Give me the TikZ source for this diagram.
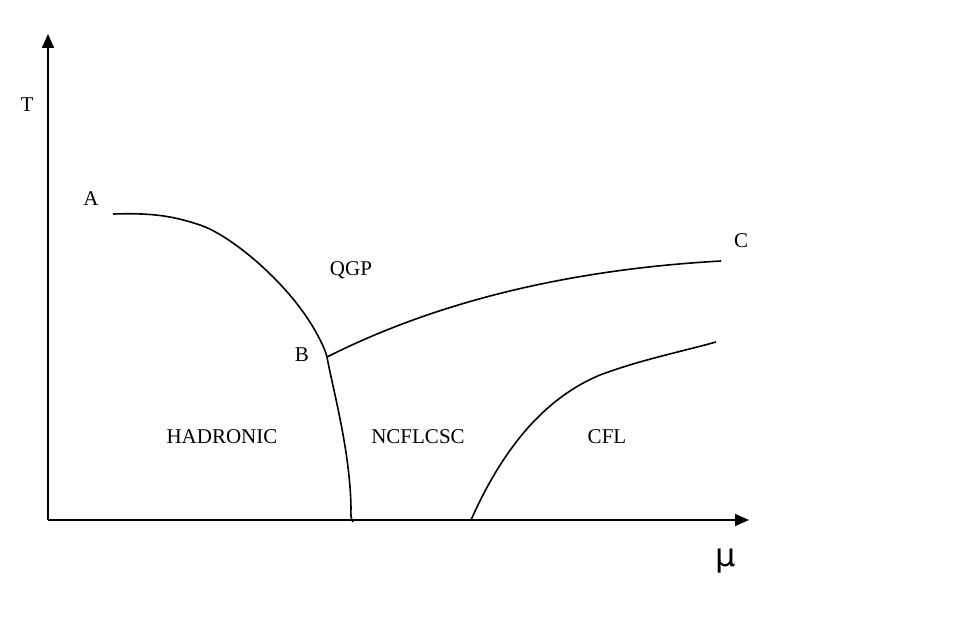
\documentclass[tikz,border=0pt]{standalone}
\usepackage{fontspec}
\setmainfont{Liberation Serif}
\newfontfamily\mufont{DejaVu Sans}
\usetikzlibrary{arrows.meta}
\begin{document}
\begin{tikzpicture}[x=1pt,y=-1pt,
  curve/.style={line width=1.6pt},
  axis/.style={line width=2pt,-{Triangle[length=14pt,width=12pt]}},
  lab/.style={font=\fontsize{21}{24}\selectfont,inner sep=0pt}]
\useasboundingbox (0,0) rectangle (959,618);
\coordinate (O) at (48,520);
\coordinate (ytip) at (48,34);
\coordinate (xtip) at (749,520);
\draw[axis] (O) -- (ytip);
\draw[axis] (O) -- (xtip);
\node[lab] (T) at (27,105) {T};
\node[lab] (A) at (91,199) {A};
\node[lab] (B) at (302,355) {B};
\node[lab] (C) at (741,241) {C};
\node[lab] (QGP) at (351,270) {QGP};
\node[lab] (HAD) at (222,437) {HADRONIC};
\node[lab] (NCF) at (418,437) {NCFLCSC};
\node[lab] (CFL) at (607,437) {CFL};
\node[inner sep=0pt,font=\mufont\fontsize{32}{34}\selectfont] (mu) at (726,561) {μ};
\coordinate (a0) at (113,214);
\coordinate (b0) at (327,357);
\coordinate (c0) at (721,261);
\coordinate (d0) at (471,520);
\coordinate (d1) at (716,342);
\draw[curve] (a0) .. controls (150,213) and (170,215) .. (200,225)
  .. controls (230,235) and (285,280) .. (313,327)
  .. controls (320,339) and (325,349) .. (b0)
  .. controls (333,390) and (350,450) .. (351,508)
  .. controls (350.5,515) and (351,519) .. (353,522);
\draw[curve] (b0) .. controls (430,305) and (560,270) .. (c0);
\draw[curve] (d0) .. controls (500,455) and (540,400) .. (600,375)
  .. controls (640,360) and (680,352) .. (d1);
\end{tikzpicture}
\end{document}
